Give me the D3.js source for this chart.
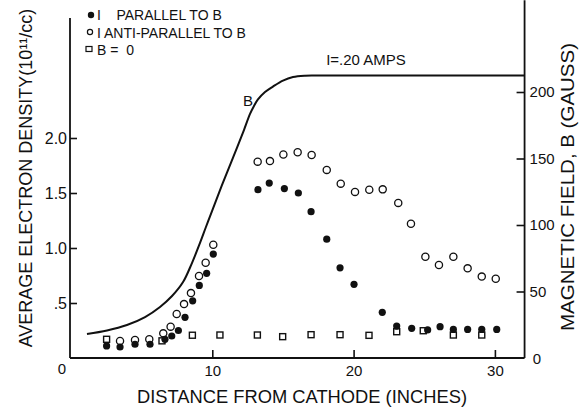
<!DOCTYPE html>
<html><head><meta charset="utf-8">
<script src="https://cdn.jsdelivr.net/npm/d3@7"></script>
<style>
html,body{margin:0;padding:0;background:#fff;}
svg{display:block;font-family:"Liberation Sans",Arial,sans-serif;}
</style></head>
<body><svg id="c" width="579" height="407"></svg>
<script>
// ---- data ----
const densityTicks = [0.5, 1.0, 1.5, 2.0];
const densityTickLabels = [".5", "1.0", "1.5", "2.0"];
const distanceTicks = [10, 20, 30];
const distanceTickLabels = ["10", "20", "30"];
const gaussTicks = [50, 100, 150, 200];
const gaussTickLabels = ["50", "100", "150", "200"];

// B field curve (distance in inches, gauss)
const bDist  = [1.13, 2.55, 3.96, 5.24, 6.30, 7.15, 7.93, 8.56, 9.13, 9.55, 9.98, 10.69, 11.46, 12.24, 12.67, 12.95, 13.23, 13.73, 14.29, 15.00, 15.71, 16.56, 17.62, 32.1];
const bGauss = [18.05, 20.7, 24.8, 30.8, 38.4, 46.6, 57.1, 71.4, 86.5, 98.5, 110.5, 130.1, 150.4, 171.4, 183.5, 189.5, 194.4, 200.0, 204.1, 208.6, 211.3, 212.3, 212.4, 212.4];

// I parallel to B (filled circles)
const parDist = [2.52, 3.47, 4.53, 5.59, 6.65, 7.13, 7.60, 8.07, 8.61, 9.08, 9.60, 10.07, 13.23, 14.03, 15.10, 16.09, 16.99, 18.10, 19.04, 20.03, 22.03, 23.05, 24.11, 25.24, 26.12, 27.06, 28.07, 29.07, 30.13];
const parDens = [0.11, 0.10, 0.125, 0.125, 0.17, 0.20, 0.25, 0.37, 0.52, 0.66, 0.77, 0.945, 1.53, 1.59, 1.54, 1.50, 1.33, 1.08, 0.82, 0.67, 0.415, 0.29, 0.27, 0.255, 0.285, 0.26, 0.26, 0.26, 0.26];

// I anti-parallel to B (open circles)
const antiDist = [3.47, 4.53, 5.54, 6.53, 7.05, 7.48, 8.00, 8.49, 9.06, 9.53, 10.07, 13.21, 14.08, 15.03, 16.04, 17.03, 18.10, 19.09, 20.10, 21.11, 22.06, 23.16, 24.06, 25.08, 26.04, 27.06, 28.07, 29.07, 30.06];
const antiDens = [0.155, 0.164, 0.17, 0.224, 0.285, 0.40, 0.49, 0.59, 0.745, 0.866, 1.03, 1.785, 1.79, 1.85, 1.87, 1.845, 1.71, 1.585, 1.51, 1.53, 1.533, 1.41, 1.22, 0.92, 0.845, 0.92, 0.815, 0.74, 0.72];

// B = 0 (open squares)
const zeroDist = [2.52, 6.44, 8.59, 10.54, 13.19, 14.98, 16.99, 19.04, 21.09, 23.05, 24.93, 27.06, 29.07];
const zeroDens = [0.17, 0.156, 0.207, 0.209, 0.209, 0.194, 0.212, 0.212, 0.206, 0.239, 0.248, 0.209, 0.209];

const legendLabels = ["I    PARALLEL TO B", "I ANTI-PARALLEL TO B", "B =  0"];

// ---- scales ----
const svg = d3.select("#c");
const x = d3.scaleLinear().domain([0, 10]).range([71, 212.3]);
const y = d3.scaleLinear().domain([0, 2]).range([358, 138]);
const yB = d3.scaleLinear().domain([0, 200]).range([358, 92]);
const xMax = 32.1, yTop = 3.09, gTop = 269;

const ink = "#111";
const g = svg.append("g");

// axis lines
g.append("line").attr("x1", x(0) - 1).attr("x2", x(0) - 1).attr("y1", y(yTop)).attr("y2", y(0)).attr("stroke", ink).attr("stroke-width", 1.8);
g.append("line").attr("x1", x(0) - 1).attr("x2", x(xMax)).attr("y1", y(0)).attr("y2", y(0)).attr("stroke", ink).attr("stroke-width", 1.8);
g.append("line").attr("x1", x(xMax)).attr("x2", x(xMax)).attr("y1", yB(gTop)).attr("y2", yB(0)).attr("stroke", ink).attr("stroke-width", 1.8);

// left axis (inward ticks)
const axL = d3.axisLeft(y).tickValues(densityTicks).tickSize(-7).tickPadding(3)
  .tickFormat((d, i) => densityTickLabels[i]);
const gl = g.append("g").attr("transform", `translate(${x(0) - 1},0)`).call(axL);
// bottom axis
const axB = d3.axisBottom(x).tickValues(distanceTicks).tickSize(-8).tickPadding(7)
  .tickFormat((d, i) => distanceTickLabels[i]);
const gb = g.append("g").attr("transform", `translate(0,${y(0)})`).call(axB);
// right axis
const axR = d3.axisRight(yB).tickValues(gaussTicks).tickSize(-8).tickPadding(5)
  .tickFormat((d, i) => gaussTickLabels[i]);
const gr = g.append("g").attr("transform", `translate(${x(xMax)},0)`).call(axR);

[gl, gb, gr].forEach(a => {
  a.select(".domain").remove();
  a.selectAll(".tick line").attr("stroke", ink).attr("stroke-width", 1.6);
  a.selectAll(".tick text").attr("fill", ink).attr("font-family", '"Liberation Sans",Arial,sans-serif');
});
gl.selectAll(".tick text").attr("font-size", 16);
gb.selectAll(".tick text").attr("font-size", 15);
gr.selectAll(".tick text").attr("font-size", 15);

// origin zeros
g.append("text").attr("x", 62).attr("y", 374).attr("text-anchor", "middle").attr("font-size", 15).attr("fill", ink).text("0");
g.append("text").attr("x", 537).attr("y", 364).attr("text-anchor", "middle").attr("font-size", 15).attr("fill", ink).text("0");

// axis titles
g.append("text").attr("x", 302).attr("y", 403).attr("text-anchor", "middle")
  .attr("font-size", 19).attr("fill", ink).attr("textLength", 330).attr("lengthAdjust", "spacingAndGlyphs")
  .text("DISTANCE FROM CATHODE (INCHES)");
g.append("text").attr("transform", "translate(32,178) rotate(-90)").attr("text-anchor", "middle")
  .attr("font-size", 18).attr("fill", ink)
  .text("AVERAGE ELECTRON DENSITY(10¹¹/cc)");
g.append("text").attr("transform", "translate(574,187) rotate(-90)").attr("text-anchor", "middle")
  .attr("font-size", 19).attr("fill", ink).attr("textLength", 288).attr("lengthAdjust", "spacingAndGlyphs")
  .text("MAGNETIC FIELD, B (GAUSS)");

// B curve
const bData = bDist.map((d, i) => [d, bGauss[i]]);
g.append("path").datum(bData)
  .attr("d", d3.line().x(d => x(d[0])).y(d => yB(d[1])).curve(d3.curveCatmullRom.alpha(0.5)))
  .attr("fill", "none").attr("stroke", ink).attr("stroke-width", 2);
g.append("text").attr("x", 248).attr("y", 106).attr("text-anchor", "middle").attr("font-size", 15).attr("fill", ink).text("B");
g.append("text").attr("x", 366).attr("y", 65).attr("text-anchor", "middle").attr("font-size", 15).attr("fill", ink).text("I=.20 AMPS");

// markers
g.append("g").selectAll("rect").data(zeroDist.map((d, i) => [d, zeroDens[i]])).join("rect")
  .attr("x", d => x(d[0]) - 3).attr("y", d => y(d[1]) - 3).attr("width", 6).attr("height", 6)
  .attr("fill", "#fff").attr("stroke", ink).attr("stroke-width", 1.4);
g.append("g").selectAll("circle").data(antiDist.map((d, i) => [d, antiDens[i]])).join("circle")
  .attr("cx", d => x(d[0])).attr("cy", d => y(d[1])).attr("r", 3.6)
  .attr("fill", "#fff").attr("stroke", ink).attr("stroke-width", 1.3);
g.append("g").selectAll("circle").data(parDist.map((d, i) => [d, parDens[i]])).join("circle")
  .attr("cx", d => x(d[0])).attr("cy", d => y(d[1])).attr("r", 3.6)
  .attr("fill", ink);

// legend
const lg = g.append("g");
lg.append("circle").attr("cx", 91).attr("cy", 15).attr("r", 3.2).attr("fill", ink);
lg.append("circle").attr("cx", 90).attr("cy", 32).attr("r", 2.6).attr("fill", "#fff").attr("stroke", ink).attr("stroke-width", 1.2);
lg.append("rect").attr("x", 86).attr("y", 46.5).attr("width", 6).attr("height", 5).attr("fill", "#fff").attr("stroke", ink).attr("stroke-width", 1.2);
legendLabels.forEach((t, i) => {
  lg.append("text").attr("x", 97).attr("y", 20 + i * 17.5).attr("font-size", 14).attr("fill", ink)
    .attr("xml:space", "preserve").style("white-space", "pre").text(t);
});
</script>
</body></html>
